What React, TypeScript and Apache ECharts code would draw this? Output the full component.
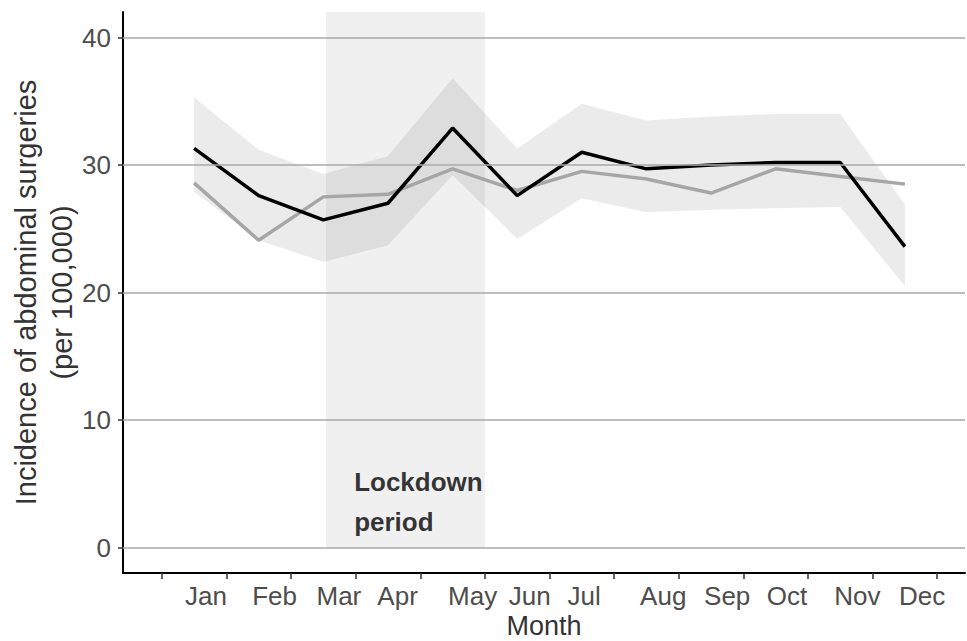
import React, { useEffect, useRef } from "react";
import * as echarts from "echarts";

// Month positions on the continuous x scale (0 = January point)
const months = ["Jan", "Feb", "Mar", "Apr", "May", "Jun", "Jul", "Aug", "Sep", "Oct", "Nov", "Dec"];
const monthIndex = [0, 1, 2, 3, 4, 5, 6, 7, 8, 9, 10, 11];
const monthLabelPos = [0.184, 1.246, 2.241, 3.149, 4.311, 5.193, 6.037, 7.26, 8.25, 9.175, 10.263, 11.265];
const xTickPos = [-0.5, 0.5, 1.5, 2.5, 3.5, 4.5, 5.5, 6.5, 7.5, 8.5, 9.5, 10.5, 11.5];
const yTickPos = [0, 10, 20, 30, 40];

// Observed incidence (per 100,000)
const observed = [31.3, 27.6, 25.7, 27.0, 32.9, 27.6, 31.0, 29.7, 30.0, 30.2, 30.2, 23.6];
// Expected incidence with its interval
const expected = [28.6, 24.1, 27.5, 27.7, 29.7, 28.0, 29.5, 28.9, 27.8, 29.7, 29.1, 28.5];
const expectedLower = [27.9, 24.1, 22.4, 23.7, 29.2, 24.2, 27.4, 26.3, 26.5, 26.6, 26.7, 20.5];
const expectedUpper = [35.3, 31.2, 29.3, 30.7, 36.8, 31.3, 34.8, 33.5, 33.8, 34.0, 34.0, 26.9];

// Lockdown window on the x scale and its annotation
const lockdownStart = 2.04;
const lockdownEnd = 4.5;
const lockdownLabelAt: [number, number] = [2.477, 3.6];

const FONT = "'Liberation Sans', Arial, sans-serif";

export default function App() {
  const ref = useRef<HTMLDivElement>(null);

  useEffect(() => {
    if (!ref.current) return;
    const chart = echarts.init(ref.current, undefined, { renderer: "svg" });

    const pairs = (vals: number[]) => monthIndex.map((m, i) => [m, vals[i]]);
    const bandRows = monthIndex.map((m, i) => [m, expectedLower[i], expectedUpper[i]]);

    chart.setOption({
      animation: false,
      backgroundColor: "#ffffff",
      textStyle: { fontFamily: FONT },
      grid: { left: 123, right: 2, top: 12, bottom: 68, containLabel: false, outerBoundsMode: "none" },
      xAxis: {
        type: "value",
        min: -1.1,
        max: 11.93,
        name: "Month",
        nameLocation: "middle",
        nameGap: 39,
        nameMoveOverlap: false,
        nameTextStyle: { fontSize: 27, color: "#333333", fontFamily: FONT },
        axisLine: { show: true, onZero: false, lineStyle: { color: "#000000", width: 2 } },
        axisTick: {
          show: true,
          length: 6,
          customValues: xTickPos,
          lineStyle: { color: "#333333", width: 1.5 },
        },
        axisLabel: {
          customValues: monthLabelPos,
          margin: 10,
          fontSize: 26,
          color: "#4d4d4d",
          fontFamily: FONT,
          formatter: (v: number) => {
            let best = 0;
            monthLabelPos.forEach((p, i) => {
              if (Math.abs(p - v) < Math.abs(monthLabelPos[best] - v)) best = i;
            });
            return months[best];
          },
        },
        splitLine: { show: false },
      },
      yAxis: {
        type: "value",
        min: -2,
        max: 42,
        name: "Incidence of abdominal surgeries\n(per 100,000)",
        nameLocation: "middle",
        nameGap: 43,
        nameRotate: 90,
        nameMoveOverlap: false,
        nameTextStyle: { fontSize: 29, color: "#333333", fontFamily: FONT, lineHeight: 36 },
        axisLine: { show: true, onZero: false, lineStyle: { color: "#000000", width: 2 } },
        axisTick: {
          show: true,
          length: 5,
          customValues: yTickPos,
          lineStyle: { color: "#333333", width: 1.5 },
        },
        axisLabel: {
          customValues: yTickPos,
          margin: 12,
          fontSize: 26,
          color: "#4d4d4d",
          fontFamily: FONT,
        },
        splitLine: { show: false },
      },
      series: [
        {
          // horizontal reference lines and the lockdown window
          type: "line",
          data: [],
          silent: true,
          markLine: {
            symbol: "none",
            silent: true,
            label: { show: false },
            lineStyle: { color: "#a8a8a8", width: 1.5, type: "solid" },
            data: yTickPos.map((y) => ({ yAxis: y })),
          },
          markArea: {
            silent: true,
            itemStyle: { color: "rgba(0,0,0,0.06)" },
            data: [[{ xAxis: lockdownStart, yAxis: 0 }, { xAxis: lockdownEnd, yAxis: 42 }]],
          },
          z: 1,
        },
        {
          // interval ribbon around the expected incidence
          type: "custom",
          data: bandRows,
          silent: true,
          renderItem: (params: any, api: any) => {
            if (params.dataIndex !== 0) return null;
            const upper = bandRows.map((r) => api.coord([r[0], r[2]]));
            const lower = bandRows.map((r) => api.coord([r[0], r[1]])).reverse();
            return {
              type: "polygon",
              shape: { points: upper.concat(lower) },
              style: { fill: "rgba(0,0,0,0.08)", stroke: "none" },
            };
          },
          z: 2,
        },
        {
          name: "Expected",
          type: "line",
          data: pairs(expected),
          symbol: "none",
          lineStyle: { color: "#a6a6a6", width: 3.5 },
          z: 3,
        },
        {
          name: "Observed",
          type: "line",
          data: pairs(observed),
          symbol: "none",
          lineStyle: { color: "#000000", width: 3.5 },
          z: 4,
        },
        {
          type: "scatter",
          data: [lockdownLabelAt],
          symbolSize: 0,
          silent: true,
          label: {
            show: true,
            position: "right",
            distance: 0,
            formatter: "Lockdown\nperiod",
            fontSize: 26,
            fontWeight: "bold",
            color: "#000000",
            lineHeight: 40,
            align: "left",
            fontFamily: FONT,
          },
          z: 5,
        },
      ],
    });

    return () => chart.dispose();
  }, []);

  return (
    <div
      ref={ref}
      style={{ position: "fixed", left: 0, top: 0, width: 967, height: 641 }}
    />
  );
}
